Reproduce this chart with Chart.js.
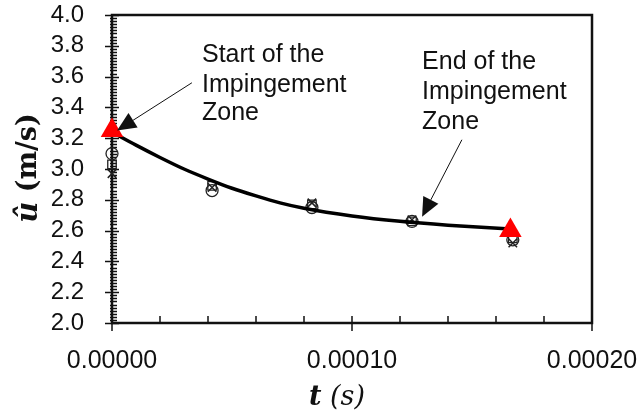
<!DOCTYPE html>
<html>
<head>
<meta charset="utf-8">
<script src="https://cdn.jsdelivr.net/npm/chart.js@4"></script>
<style>
  html, body { margin: 0; padding: 0; background: #fff; }
  #wrap { width: 639px; height: 417px; }
</style>
</head>
<body>
<div id="wrap"><canvas id="myChart"></canvas></div>
<script>
// measured velocity points (three repeats)
const timeVals = [0, 0.0000417, 0.0000833, 0.000125, 0.000167];
const circleVals = [3.10, 2.86, 2.75, 2.66, 2.54];
const squareVals = [3.03, 2.89, 2.77, 2.66, 2.55];
const crossVals = [2.97, 2.88, 2.78, 2.67, 2.52];

// fitted trend line
const fitTimes = [0, 0.00001, 0.00002, 0.00003, 0.00004, 0.00005, 0.00006, 0.00007, 0.00008, 0.0001, 0.00012, 0.00014, 0.000166];
const fitVals = [3.24, 3.155, 3.075, 3.00, 2.935, 2.875, 2.825, 2.78, 2.745, 2.695, 2.66, 2.635, 2.61];

// start / end of impingement zone
const zoneTimes = [0, 0.000166];
const zoneVals = [3.25, 2.60];

// axis ticks
const yTicks = [2.0, 2.2, 2.4, 2.6, 2.8, 3.0, 3.2, 3.4, 3.6, 3.8, 4.0];
const xTicks = [0, 0.0001, 0.0002];

// annotations (data units)
const startLabel = ['Start of the', 'Impingement', 'Zone'];
const endLabel = ['End of the', 'Impingement', 'Zone'];
const startText = { x: 0.0000375, y: [3.74, 3.545, 3.36] };
const endText = { x: 0.0001292, y: [3.695, 3.50, 3.305] };
const startArrow = { from: [0.0000333, 3.56], to: [0.0000021, 3.25] };
const endArrow = { from: [0.0001458, 3.19], to: [0.0001292, 2.69] };

function pts(xs, ys) {
    return xs.map((x, i) => ({ x: x, y: ys[i] }));
}

const ink = '#111';

function noPad(s) {
    s.paddingTop = 0;
    s.paddingBottom = 0;
    s.paddingLeft = 0;
    s.paddingRight = 0;
}

const axisDeco = {
    id: 'axisDeco',
    beforeDatasetsDraw(chart) {
        const ctx = chart.ctx;
        const a = chart.chartArea;
        const xs = chart.scales.x;
        const ys = chart.scales.y;
        ctx.save();
        ctx.strokeStyle = ink;
        ctx.lineWidth = 2.5;
        ctx.strokeRect(a.left, a.top, a.right - a.left, a.bottom - a.top);

        ctx.lineWidth = 1.5;
        ctx.beginPath();
        // y ticks, minor every 0.02
        for (let i = 0; i <= 100; i++) {
            const py = Math.round(ys.getPixelForValue(2 + i * 0.02)) + 0.5;
            if (i % 10 === 0) {
                ctx.moveTo(a.left - 7, py); ctx.lineTo(a.left + 7, py);
            } else {
                ctx.moveTo(a.left - 2, py); ctx.lineTo(a.left + 5, py);
            }
        }
        // x ticks, minor every 0.00002
        for (let i = 0; i <= 10; i++) {
            const px = xs.getPixelForValue(i * 0.00002);
            if (i % 5 === 0) {
                ctx.moveTo(px, a.bottom - 7); ctx.lineTo(px, a.bottom + 8);
            } else {
                ctx.moveTo(px, a.bottom); ctx.lineTo(px, a.bottom - 7);
            }
        }
        ctx.stroke();
        ctx.restore();
    },
    afterDraw(chart) {
        const ctx = chart.ctx;
        const xs = chart.scales.x;
        const ys = chart.scales.y;
        ctx.save();
        ctx.fillStyle = ink;
        ctx.strokeStyle = ink;

        // annotation text
        ctx.font = '25px "Liberation Sans", Arial, sans-serif';
        ctx.textAlign = 'left';
        ctx.textBaseline = 'middle';
        startLabel.forEach((s, i) => ctx.fillText(s, xs.getPixelForValue(startText.x), ys.getPixelForValue(startText.y[i])));
        endLabel.forEach((s, i) => ctx.fillText(s, xs.getPixelForValue(endText.x), ys.getPixelForValue(endText.y[i])));

        // arrows
        [startArrow, endArrow].forEach(ar => {
            const x1 = xs.getPixelForValue(ar.from[0]), y1 = ys.getPixelForValue(ar.from[1]);
            const x2 = xs.getPixelForValue(ar.to[0]), y2 = ys.getPixelForValue(ar.to[1]);
            const ang = Math.atan2(y2 - y1, x2 - x1);
            const len = 19, hw = 8.5;
            const bx = x2 - len * Math.cos(ang), by = y2 - len * Math.sin(ang);
            ctx.lineWidth = 1;
            ctx.beginPath();
            ctx.moveTo(x1, y1); ctx.lineTo(bx, by);
            ctx.stroke();
            ctx.beginPath();
            ctx.moveTo(x2, y2);
            ctx.lineTo(bx + hw * Math.sin(ang), by - hw * Math.cos(ang));
            ctx.lineTo(bx - hw * Math.sin(ang), by + hw * Math.cos(ang));
            ctx.closePath();
            ctx.fill();
        });

        // axis titles
        ctx.textAlign = 'left';
        ctx.textBaseline = 'middle';
        ctx.font = 'italic bold 27px "DejaVu Serif", serif';
        const tW = ctx.measureText('t').width;
        ctx.font = 'italic 27px "DejaVu Serif", serif';
        const sW = ctx.measureText(' (s)').width;
        const x0 = 337 - (tW + sW) / 2;
        ctx.font = 'italic bold 27px "DejaVu Serif", serif';
        ctx.fillText('t', x0, 398);
        ctx.font = 'italic 27px "DejaVu Serif", serif';
        ctx.fillText(' (s)', x0 + tW, 398);

        ctx.translate(29, 168);
        ctx.rotate(-Math.PI / 2);
        ctx.font = 'italic bold 29px "DejaVu Serif", serif';
        const uW = ctx.measureText('\u00fb').width;
        ctx.font = 'bold 27px "DejaVu Serif", serif';
        const mW = ctx.measureText(' (m/s)').width;
        const y0 = -(uW + mW) / 2;
        ctx.font = 'italic bold 29px "DejaVu Serif", serif';
        ctx.fillText('\u00fb', y0, 0);
        ctx.font = 'bold 27px "DejaVu Serif", serif';
        ctx.fillText(' (m/s)', y0 + uW, 0);
        ctx.restore();
    }
};

const c1 = document.getElementById('myChart').getContext('2d');

new Chart(c1, {
    type: 'scatter',
    data: {
        datasets: [
            {
                label: 'Zone limits',
                data: pts(zoneTimes, zoneVals),
                pointStyle: 'triangle',
                pointRadius: 13,
                backgroundColor: '#ff0000',
                borderColor: '#ff0000',
                borderWidth: 0,
                clip: false
            },
            {
                label: 'Fit',
                data: pts(fitTimes, fitVals),
                showLine: true,
                cubicInterpolationMode: 'monotone',
                borderColor: '#000',
                borderWidth: 3.5,
                pointRadius: 0,
                clip: false
            },
            {
                label: 'Circle',
                data: pts(timeVals, circleVals),
                pointStyle: 'circle',
                pointRadius: 6,
                borderColor: '#222',
                borderWidth: 1.3,
                backgroundColor: 'rgba(0,0,0,0)',
                clip: false
            },
            {
                label: 'Square',
                data: pts(timeVals, squareVals),
                pointStyle: 'rect',
                pointRadius: 6,
                borderColor: '#222',
                borderWidth: 1.3,
                backgroundColor: 'rgba(0,0,0,0)',
                clip: false
            },
            {
                label: 'Cross',
                data: pts(timeVals, crossVals),
                pointStyle: 'crossRot',
                pointRadius: 6,
                borderColor: '#222',
                borderWidth: 1.5,
                clip: false
            }
        ]
    },
    options: {
        responsive: true,
        maintainAspectRatio: false,
        animation: false,
        layout: { padding: { left: 0, top: 15, right: 47, bottom: 0 } },
        plugins: {
            legend: { display: false },
            tooltip: { enabled: false }
        },
        scales: {
            x: {
                type: 'linear',
                min: 0,
                max: 0.0002,
                afterFit: s => { s.height = 94; noPad(s); },
                afterBuildTicks: s => { s.ticks = xTicks.map(v => ({ value: v })); },
                grid: { display: false },
                border: { display: false },
                ticks: {
                    autoSkip: false,
                    maxRotation: 0,
                    padding: 15,
                    color: ink,
                    font: { family: '"Liberation Sans", Arial, sans-serif', size: 25 },
                    callback: v => Number(v).toFixed(5)
                }
            },
            y: {
                min: 2.0,
                max: 4.0,
                afterFit: s => { s.width = 112; noPad(s); },
                afterBuildTicks: s => { s.ticks = yTicks.map(v => ({ value: v })); },
                grid: { display: false },
                border: { display: false },
                ticks: {
                    autoSkip: false,
                    padding: 20,
                    color: ink,
                    font: { family: '"Liberation Sans", Arial, sans-serif', size: 24 },
                    callback: v => Number(v).toFixed(1)
                }
            }
        }
    },
    plugins: [axisDeco]
});
</script>
</body>
</html>
